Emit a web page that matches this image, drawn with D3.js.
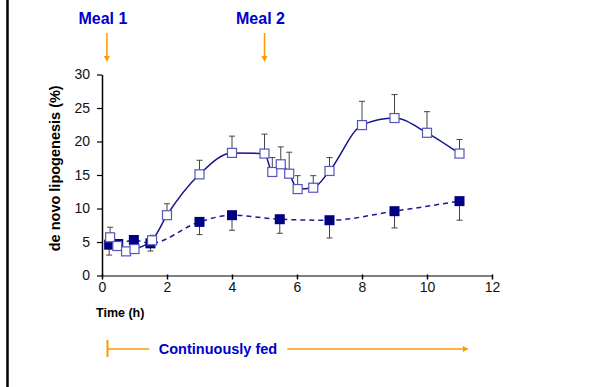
<!DOCTYPE html>
<html>
<head>
<meta charset="utf-8">
<script src="https://cdn.jsdelivr.net/npm/d3@7"></script>
<style>
  body { margin: 0; background: #fff; }
  svg { font-family: "Liberation Sans", Arial, sans-serif; }
</style>
</head>
<body>
<script>
// meal-fed group (open squares), error bars point up
const mealTimes = [0.25, 0.47, 0.74, 1.0, 1.54, 2.0, 3.0, 4.0, 5.0, 5.24, 5.5, 5.76, 6.02, 6.5, 7.0, 8.0, 9.0, 10.0, 11.0]
const mealValues = [5.7, 4.4, 3.6, 3.95, 5.25, 9.0, 15.1, 18.3, 18.2, 15.45, 16.6, 15.2, 12.9, 13.1, 15.6, 22.45, 23.5, 21.3, 18.2]
const mealErrors = [1.5, 0, 0, 0, 0.75, 1.7, 2.1, 2.5, 2.9, 2.15, 2.6, 3.2, 2.0, 1.8, 2.0, 3.55, 3.5, 3.15, 2.1]

// continuously fed group (filled squares), error bars point down
const contTimes = [0.22, 0.5, 0.98, 1.49, 3.0, 4.0, 5.47, 7.0, 9.0, 11.0]
const contValues = [4.6, 4.7, 5.3, 4.8, 8.0, 9.0, 8.4, 8.25, 9.6, 11.1]
const contErrors = [1.55, 0, 0, 1.15, 1.9, 2.25, 2.1, 2.65, 2.5, 2.85]

const xTicks = [0, 2, 4, 6, 8, 10, 12]
const yTicks = [0, 5, 10, 15, 20, 25, 30]
const meals = [{label: 'Meal 1', t: 0.15}, {label: 'Meal 2', t: 5}]

const width = 592
const height = 387
const margin = {top: 74.5, right: 100, bottom: 111.5, left: 102}

const svg = d3.select('body').append('svg')
  .attr('width', width)
  .attr('height', height)

const x = d3.scaleLinear().domain([0, 12]).range([margin.left, width - margin.right])
const y = d3.scaleLinear().domain([0, 30]).range([height - margin.bottom, margin.top])

// frame line on the left
svg.append('line')
  .attr('x1', 7.5).attr('x2', 7.5)
  .attr('y1', 0).attr('y2', height)
  .style('stroke', '#000')
  .style('stroke-width', 2.5)

// axes
const xAxis = svg.append('g')
  .attr('transform', `translate(0,${y(0)})`)
  .call(d3.axisBottom(x).tickValues(xTicks).tickSize(4).tickSizeOuter(0))
xAxis.select('.domain').style('stroke', '#555').style('stroke-width', 1.5)
xAxis.selectAll('.tick line').style('stroke', '#000').style('stroke-width', 1.5).attr('y1', -1)
xAxis.selectAll('text').style('font-size', '14px').style('fill', '#111').attr('dy', '0.6em').attr('y', 8)

const yAxis = svg.append('g')
  .attr('transform', `translate(${x(0)},0)`)
  .call(d3.axisLeft(y).tickValues(yTicks).tickSize(5).tickSizeOuter(0))
yAxis.select('.domain').style('stroke', '#000').style('stroke-width', 1.5)
yAxis.selectAll('.tick line').style('stroke', '#000').style('stroke-width', 1.2)
yAxis.selectAll('text').style('font-size', '14px').style('fill', '#111').attr('x', -12)

svg.append('text')
  .attr('transform', `translate(${x(0) - 47},${y(16)}) rotate(-90)`)
  .attr('text-anchor', 'middle')
  .attr('dy', '0.35em')
  .style('font-size', '14.5px')
  .style('font-weight', 'bold')
  .text('de novo lipogenesis (%)')

svg.append('text')
  .attr('x', x(0) - 6)
  .attr('y', y(0) + 41)
  .style('font-size', '12.5px')
  .style('font-weight', 'bold')
  .text('Time (h)')

// meal markers
const orange = '#ff9900'
const blueText = '#0000cc'
meals.forEach(m => {
  svg.append('text')
    .attr('x', x(m.t) - 4)
    .attr('y', 24)
    .attr('text-anchor', 'middle')
    .style('font-size', '16px')
    .style('font-weight', 'bold')
    .style('fill', blueText)
    .text(m.label)
  svg.append('line')
    .attr('x1', x(m.t)).attr('x2', x(m.t))
    .attr('y1', 33).attr('y2', 57)
    .style('stroke', orange)
    .style('stroke-width', 1.5)
  svg.append('path')
    .attr('d', d3.line()([[x(m.t) - 3, 56], [x(m.t) + 3, 56], [x(m.t), 62]]))
    .style('fill', orange)
})

// continuously fed bar
const fedY = 349
svg.append('line')
  .attr('x1', x(0.17)).attr('x2', x(0.17))
  .attr('y1', fedY - 9).attr('y2', fedY + 8)
  .style('stroke', orange).style('stroke-width', 2)
svg.append('line')
  .attr('x1', x(0.17)).attr('x2', x(1.45))
  .attr('y1', fedY).attr('y2', fedY)
  .style('stroke', orange).style('stroke-width', 1.5)
svg.append('text')
  .attr('x', 218)
  .attr('y', fedY + 5)
  .attr('text-anchor', 'middle')
  .style('font-size', '14.5px')
  .style('font-weight', 'bold')
  .style('fill', blueText)
  .text('Continuously fed')
svg.append('line')
  .attr('x1', x(5.7)).attr('x2', x(11.1))
  .attr('y1', fedY).attr('y2', fedY)
  .style('stroke', orange).style('stroke-width', 1.5)
svg.append('path')
  .attr('d', d3.line()([[x(11.1), fedY - 3], [x(11.1), fedY + 3], [x(11.1) + 6, fedY]]))
  .style('fill', orange)

const meal = mealTimes.map((t, i) => ({t: t, v: mealValues[i], e: mealErrors[i]}))
const cont = contTimes.map((t, i) => ({t: t, v: contValues[i], e: contErrors[i]}))

const curve = d3.line()
  .x(d => x(d.t))
  .y(d => y(d.v))
  .curve(d3.curveMonotoneX)

const navy = '#000080'
const sq = 9

// error bars
const errColor = '#444'
const drawErrors = (data, dir) => {
  const g = svg.append('g')
  data.filter(d => d.e > 0).forEach(d => {
    const x0 = x(d.t)
    const y0 = y(d.v)
    const y1 = y(d.v + dir * d.e)
    g.append('line').attr('x1', x0).attr('x2', x0).attr('y1', y0).attr('y2', y1)
      .style('stroke', errColor).style('stroke-width', 1)
    g.append('line').attr('x1', x0 - 3).attr('x2', x0 + 3).attr('y1', y1).attr('y2', y1)
      .style('stroke', errColor).style('stroke-width', 1)
  })
}

drawErrors(cont, -1)

svg.append('path')
  .datum(cont)
  .attr('d', curve)
  .style('fill', 'none')
  .style('stroke', '#1a1a99')
  .style('stroke-width', 1.5)
  .style('stroke-dasharray', '5,4')

svg.selectAll('.cont')
  .data(cont)
  .enter()
  .append('rect')
    .attr('class', 'cont')
    .attr('x', d => x(d.t) - sq / 2 - 0.5)
    .attr('y', d => y(d.v) - sq / 2 - 0.5)
    .attr('width', sq + 1)
    .attr('height', sq + 1)
    .style('fill', navy)

drawErrors(meal, 1)

svg.append('path')
  .datum(meal)
  .attr('d', curve)
  .style('fill', 'none')
  .style('stroke', '#14148c')
  .style('stroke-width', 1.5)

svg.selectAll('.meal')
  .data(meal)
  .enter()
  .append('rect')
    .attr('class', 'meal')
    .attr('x', d => x(d.t) - sq / 2)
    .attr('y', d => y(d.v) - sq / 2)
    .attr('width', sq)
    .attr('height', sq)
    .style('fill', '#fff')
    .style('stroke', '#5555bb')
    .style('stroke-width', 1.2)
</script>
</body>
</html>
